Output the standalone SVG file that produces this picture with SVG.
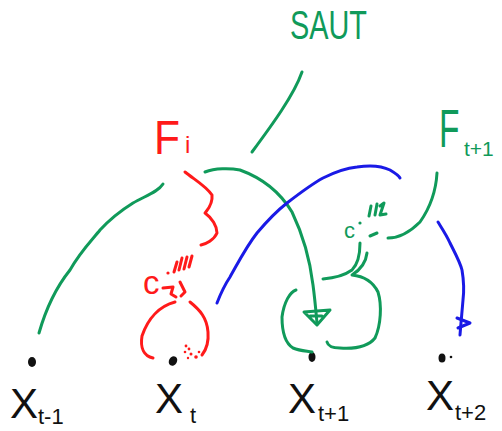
<svg xmlns="http://www.w3.org/2000/svg" width="502" height="431" viewBox="0 0 502 431">
<style>
.s{fill:none;stroke-width:3;stroke-linecap:round;stroke-linejoin:round}
.g{stroke:#109a5a}.r{stroke:#ff1a1a}.b{stroke:#1a1ae6}
.t{font-family:"Liberation Sans","DejaVu Sans",sans-serif}
.k{fill:#111}
</style>
<rect width="502" height="431" fill="#fff"/>
<g id="node-saut">
<text class="t" x="290" y="39" font-size="40" fill="#109a5a" textLength="77" lengthAdjust="spacingAndGlyphs">SAUT</text>
</g>
<g id="node-Fi">
<text class="t" x="154" y="154" font-size="48" fill="#ff1a1a" textLength="26" lengthAdjust="spacingAndGlyphs">F</text>
<text class="t" x="185" y="153" font-size="24" fill="#ff1a1a">i</text>
</g>
<g id="node-Ft1">
<text class="t" transform="translate(439,147) scale(0.62,1)" font-size="54" fill="#109a5a">F</text>
<text class="t" x="464" y="156" font-size="21" fill="#109a5a">t+1</text>
</g>
<g id="node-xtm1">
<ellipse cx="32" cy="362" rx="4" ry="5" class="k"/>
<text class="t k" x="10" y="418" font-size="42">X</text>
<text class="t k" x="38" y="424" font-size="22">t-1</text>
</g>
<g id="node-xt">
<ellipse cx="173" cy="361" rx="4" ry="5" transform="rotate(30 173 361)" class="k"/>
<text class="t k" x="155" y="413" font-size="42">X</text>
<text class="t k" x="190" y="423" font-size="22">t</text>
</g>
<g id="node-xt1">
<ellipse cx="312" cy="357" rx="3.5" ry="5" class="k"/>
<text class="t k" x="288" y="413" font-size="42">X</text>
<text class="t k" x="318" y="421" font-size="22">t+1</text>
</g>
<g id="node-xt2">
<ellipse cx="442" cy="358" rx="3.5" ry="4.5" class="k"/>
<circle cx="451" cy="357" r="1.3" class="k"/>
<text class="t k" x="426" y="410" font-size="42">X</text>
<text class="t k" x="455" y="420" font-size="22">t+2</text>
</g>
<g id="annot-red">
<text class="t" x="143" y="294" font-size="33" fill="#ff1a1a">c</text>
<circle cx="168" cy="273" r="1.6" fill="#ff1a1a"/>
<path class="s r" stroke-width="2" d="M174,272 L177,262 M179,270 L182,258 M184,269 L187,257 M189,267 L192,256"/>
<path class="s r" d="M163,288 L173,287 L171,294 L176,297 M180,282 L185,292 L181,296"/>
<path class="s r" d="M175,302 C160,306 148,318 142,336 C140,348 144,356 153,358"/>
<path class="s r" d="M190,302 C200,310 207,318 208,332 C209,344 206,350 202,355"/>
<g fill="#ff1a1a">
<circle cx="186" cy="346" r="1.4"/><circle cx="189" cy="349" r="1.4"/><circle cx="185" cy="352" r="1.3"/>
<circle cx="191" cy="354" r="1.5"/><circle cx="196" cy="357" r="1.8"/><circle cx="199" cy="352" r="1.3"/>
<circle cx="188" cy="358" r="1.2"/>
</g>
<path class="s r" d="M185,172 C195,180 206,186 212,195 C213,205 207,210 205,213 C212,218 217,226 217,233 C214,240 206,244 201,245"/>
</g>
<g id="annot-green">
<text class="t" x="344" y="238" font-size="22" fill="#109a5a">c</text>
<circle cx="360" cy="223" r="1.6" fill="#109a5a"/>
<path class="s g" stroke-width="2.5" d="M369,216 L371,206 M375,215 L377,204 M380,206 L384,203 L380,215 L386,214 M370,236 L377,233"/>
</g>
<g id="connectors">
<path class="s g" d="M39,333 C47,305 58,285 70,270 C80,252 92,240 100,230 C112,217 125,208 133,203 C145,196 158,192 163,184"/>
<path class="s g" d="M302,72 C294,95 272,125 252,152"/>
<path class="s g" d="M205,172 C215,168 230,168 240,170 C262,178 280,192 292,212 C303,235 310,260 313,285 C315,300 316,312 317,323"/>
<path class="s g" d="M304,312 L330,310 L317,325 Z M310,316 L322,316"/>
<path class="s g" d="M296,290 C290,292 284,302 282,317 C282,332 285,343 293,348 C300,351 307,351 312,352"/>
<path class="s g" d="M360,243 C360,255 358,264 352,270 C345,275 335,278 323,279"/>
<path class="s g" d="M367,253 C366,262 360,270 352,275 C362,276 372,280 378,292 C382,305 381,325 375,338 C368,347 355,349 340,348 C332,348 328,346 327,342"/>
<path class="s g" d="M437,173 C436,190 432,205 420,222 C410,232 398,238 388,238"/>
<path class="s b" d="M217,303 C222,290 226,283 230,277 C238,263 246,247 257,233 C268,220 278,210 287,203 C300,193 312,184 323,178 C335,172 347,168 357,167 C370,165 382,166 390,170 C395,173 399,176 400,178"/>
<path class="s b" d="M438,222 C443,230 447,236 450,243 C455,253 460,262 462,270 C464,282 464,292 463,300 C462,312 461,322 460,335"/>
<path class="s b" d="M457,318 L470,323 L458,328"/>
</g>
</svg>
